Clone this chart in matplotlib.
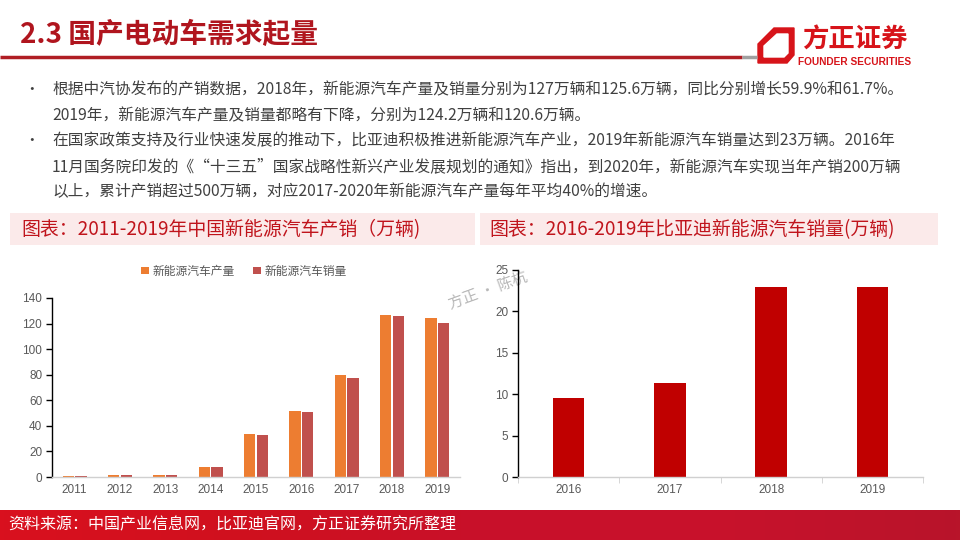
import numpy as np
import matplotlib
matplotlib.use("Agg")
import matplotlib.pyplot as plt
from matplotlib.patches import Rectangle, Polygon
from matplotlib.colors import LinearSegmentedColormap

# -- data --
years_cn = ["2011", "2012", "2013", "2014", "2015", "2016", "2017", "2018", "2019"]
production = [0.8, 1.3, 1.8, 7.9, 34.0, 51.7, 79.4, 127.0, 124.2]
sales = [0.8, 1.3, 1.8, 7.5, 33.1, 50.7, 77.7, 125.6, 120.6]

years_byd = ["2016", "2017", "2018", "2019"]
byd_sales = [9.6, 11.4, 22.9, 23.0]

title = "2.3 国产电动车需求起量"
bullets = [
    ["根据中汽协发布的产销数据，2018年，新能源汽车产量及销量分别为127万辆和125.6万辆，同比分别增长59.9%和61.7%。",
     "2019年，新能源汽车产量及销量都略有下降，分别为124.2万辆和120.6万辆。"],
    ["在国家政策支持及行业快速发展的推动下，比亚迪积极推进新能源汽车产业，2019年新能源汽车销量达到23万辆。2016年",
     "11月国务院印发的《“十三五”国家战略性新兴产业发展规划的通知》指出，到2020年，新能源汽车实现当年产销200万辆",
     "以上，累计产销超过500万辆，对应2017-2020年新能源汽车产量每年平均40%的增速。"],
]
chart_titles = ["图表：2011-2019年中国新能源汽车产销（万辆)", "图表：2016-2019年比亚迪新能源汽车销量(万辆)"]
legend_labels = ["新能源汽车产量", "新能源汽车销量"]
source = "资料来源：中国产业信息网，比亚迪官网，方正证券研究所整理"

CJK = ["Noto Sans CJK SC", "DejaVu Sans"]
NUM = ["Liberation Sans", "DejaVu Sans"]
DARK_RED = "#B0151E"

fig = plt.figure(figsize=(9.6, 5.4), dpi=100)

# background layer in pixel coordinates
bg = fig.add_axes([0, 0, 1, 1], zorder=0)
bg.set_xlim(0, 960)
bg.set_ylim(540, 0)
bg.axis("off")

# header
bg.text(20, 35, title, family=CJK, fontsize=20, fontweight="bold",
        color=DARK_RED, va="center", ha="left")
bg.plot([0, 742], [57, 57], color="#B01E24", lw=2.5, solid_capstyle="butt")
bg.plot([742, 757], [57, 57], color="#A0A0A0", lw=2.5, solid_capstyle="butt")

# logo
bg.add_patch(Polygon([(774, 28), (794, 28), (794, 55), (787, 63), (758, 63), (758, 44)],
                     closed=True, color="#D7141A"))
bg.add_patch(Polygon([(777, 34), (788, 34), (788, 53), (784, 57), (764, 57), (764, 46)],
                     closed=True, color="white"))
bg.text(855, 40, "方正证券", family=CJK, fontsize=19, fontweight="bold",
        color="#D7141A", ha="center", va="center")
bg.text(855, 62, "FOUNDER SECURITIES", family=NUM, fontsize=7.3, fontweight="bold",
        color="#D7141A", ha="center", va="center")

# bullet text
line_y = 90
for para in bullets:
    bg.text(24, line_y, "•", family=CJK, fontsize=10.5, color="#404040", va="center")
    for line in para:
        bg.text(52, line_y, line, family=CJK, fontsize=11.3, color="#404040", va="center")
        line_y += 25.5

# chart title bands
bg.add_patch(Rectangle((10, 213), 465, 32, color="#FBEAEA", lw=0))
bg.add_patch(Rectangle((480, 213), 458, 32, color="#FBEAEA", lw=0))
bg.text(21, 230, chart_titles[0], family=CJK, fontsize=13.6, color="#C0141C", va="center")
bg.text(489, 230, chart_titles[1], family=CJK, fontsize=13.6, color="#C0141C", va="center")

# footer gradient band
cmap = LinearSegmentedColormap.from_list("foot", ["#D9101E", "#D0101E", "#C8102A", "#C8122C", "#B8142A"])
grad = np.linspace(0, 1, 256).reshape(1, -1)
bg.imshow(grad, extent=(0, 960, 540, 510), aspect="auto", cmap=cmap, zorder=1)
bg.text(8, 525, source, family=CJK, fontsize=11.5, color="white", va="center", zorder=2)

# watermark
bg.text(488, 290, "方正 · 陈杭", family=CJK, fontsize=11, color="#B8B8B8",
        rotation=20, ha="center", va="center", zorder=5)


def style_axis(ax):
    for side in ["top", "right"]:
        ax.spines[side].set_visible(False)
    ax.spines["left"].set_color("black")
    ax.spines["left"].set_linewidth(1.0)
    ax.spines["bottom"].set_color("#D0D0D0")
    ax.spines["bottom"].set_linewidth(1.0)
    ax.tick_params(axis="y", direction="out", length=4, width=1, color="black",
                   labelsize=8.5, labelcolor="#595959", pad=3)
    ax.tick_params(axis="x", labelsize=8.5, labelcolor="#595959")
    ax.set_facecolor("none")
    for lab in ax.get_xticklabels() + ax.get_yticklabels():
        lab.set_family(NUM)


# left chart: China NEV production / sales
ax1 = fig.add_axes([52 / 960, 1 - 477 / 540, 408 / 960, 179 / 540], zorder=2)
x1 = np.arange(len(years_cn))
w = 0.25
ax1.bar(x1 - 0.14, production, width=w, color="#ED7D31", label=legend_labels[0])
ax1.bar(x1 + 0.14, sales, width=w, color="#C0504D", label=legend_labels[1])
ax1.set_xlim(-0.5, len(years_cn) - 0.5)
ax1.set_ylim(0, 140)
ax1.set_yticks(np.arange(0, 141, 20))
ax1.set_xticks(x1)
ax1.set_xticklabels(years_cn)
ax1.tick_params(axis="x", length=0, pad=5)
style_axis(ax1)
leg = ax1.legend(loc="center", bbox_to_anchor=(0.47, 1.15), ncol=2, frameon=False,
                 handlelength=0.65, handleheight=0.65, handletextpad=0.3,
                 columnspacing=1.6, prop={"family": CJK, "size": 8.5})
for t in leg.get_texts():
    t.set_color("#595959")

# right chart: BYD NEV sales
ax2 = fig.add_axes([518 / 960, 1 - 477 / 540, 405 / 960, 207 / 540], zorder=2)
x2 = np.arange(len(years_byd))
ax2.bar(x2, byd_sales, width=0.31, color="#C00000")
ax2.set_xlim(-0.5, len(years_byd) - 0.5)
ax2.set_ylim(0, 25)
ax2.set_yticks(np.arange(0, 26, 5))
ax2.set_xticks(x2)
ax2.set_xticklabels(years_byd)
ax2.set_xticks(np.arange(-0.5, len(years_byd)), minor=True)
ax2.tick_params(axis="x", which="major", length=0, pad=5)
ax2.tick_params(axis="x", which="minor", length=4, color="#D0D0D0", direction="out")
style_axis(ax2)

fig.savefig("out.png", dpi=100)
